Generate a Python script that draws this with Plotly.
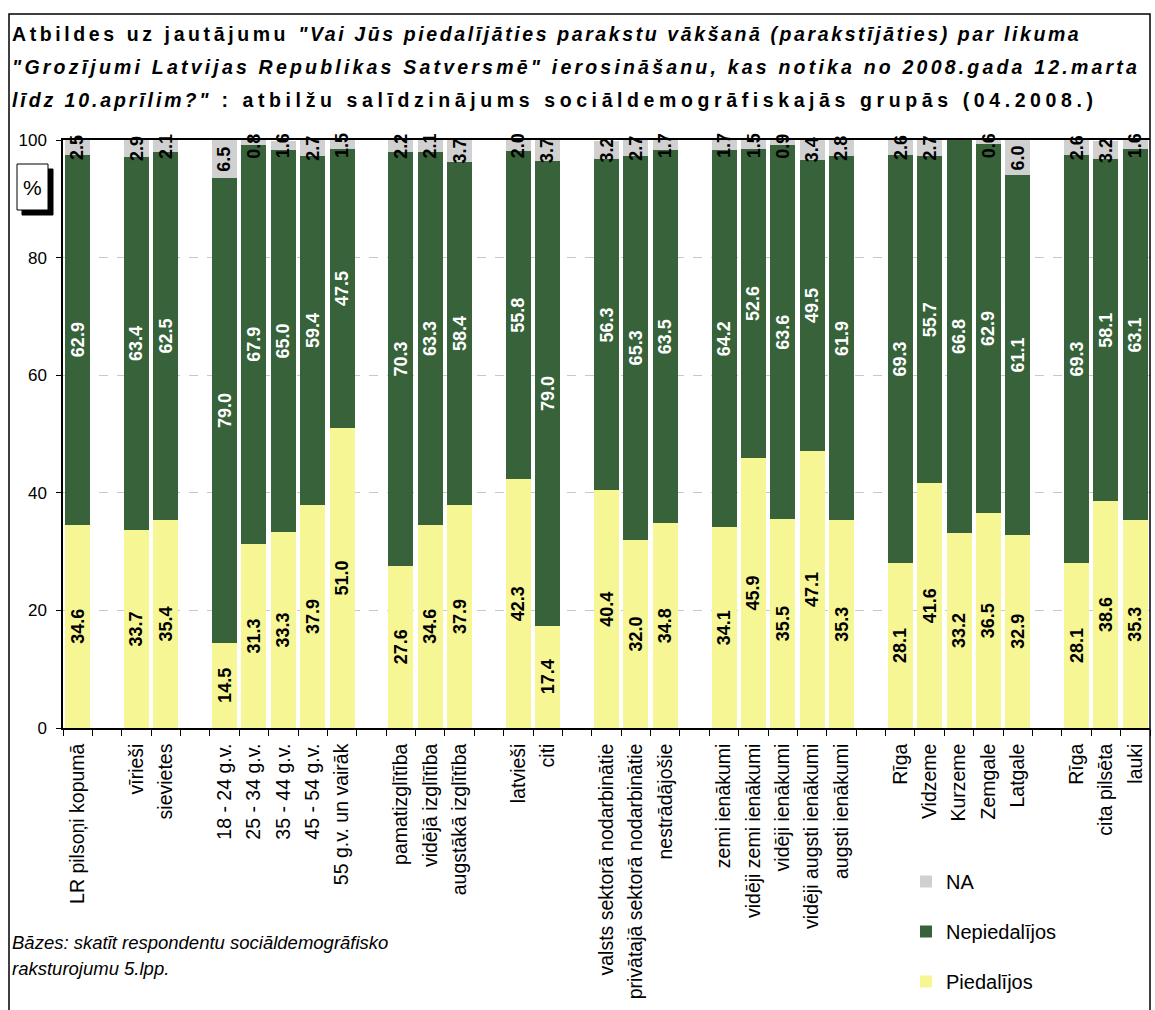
import plotly.graph_objects as go

# ---- data ----
categories = ["LR pilsoņi kopumā", "", "vīrieši", "sievietes", "",
              "18 - 24 g.v.", "25 - 34 g.v.", "35 - 44 g.v.", "45 - 54 g.v.", "55 g.v. un vairāk", "",
              "pamatizglītība", "vidējā izglītība", "augstākā izglītība", "",
              "latvieši", "citi", "",
              "valsts sektorā nodarbinātie", "privātajā sektorā nodarbinātie", "nestrādājošie", "",
              "zemi ienākumi", "vidēji zemi ienākumi", "vidēji ienākumi", "vidēji augsti ienākumi", "augsti ienākumi", "",
              "Rīga", "Vidzeme", "Kurzeme", "Zemgale", "Latgale", "",
              "Rīga", "cita pilsēta", "lauki"]

piedalijos = [34.6, None, 33.7, 35.4, None,
              14.5, 31.3, 33.3, 37.9, 51.0, None,
              27.6, 34.6, 37.9, None,
              42.3, 17.4, None,
              40.4, 32.0, 34.8, None,
              34.1, 45.9, 35.5, 47.1, 35.3, None,
              28.1, 41.6, 33.2, 36.5, 32.9, None,
              28.1, 38.6, 35.3]

nepiedalijos = [62.9, None, 63.4, 62.5, None,
                79.0, 67.9, 65.0, 59.4, 47.5, None,
                70.3, 63.3, 58.4, None,
                55.8, 79.0, None,
                56.3, 65.3, 63.5, None,
                64.2, 52.6, 63.6, 49.5, 61.9, None,
                69.3, 55.7, 66.8, 62.9, 61.1, None,
                69.3, 58.1, 63.1]

na_vals = [2.5, None, 2.9, 2.1, None,
           6.5, 0.8, 1.6, 2.7, 1.5, None,
           2.2, 2.1, 3.7, None,
           2.0, 3.7, None,
           3.2, 2.7, 1.7, None,
           1.7, 1.5, 0.9, 3.4, 2.8, None,
           2.6, 2.7, None, 0.6, 6.0, None,
           2.6, 3.2, 1.6]

series_names = ["Piedalījos", "Nepiedalījos", "NA"]
y_ticks = [0, 20, 40, 60, 80, 100]

# ---- layout geometry (pixels) ----
W, H = 1155, 1010
L, R, T, B = 63, 5, 140, 282
PW, PH = W - L - R, H - T - B


def px(x):
    return (x - L) / PW


def py(y):
    return (H - B - y) / PH


FONT = "Arial, Liberation Sans, sans-serif"
xpos = list(range(len(categories)))


def labels(vals):
    return ["" if v is None else f"{v:.1f}" for v in vals]


fig = go.Figure()
colors = ["#F6F694", "#37623A", "#D0D0D0"]
textcolors = ["black", "white", "black"]
ranks = [3, 2, 1]
all_vals = [piedalijos, nepiedalijos, na_vals]
for k, (name, vals, col, tc) in enumerate(zip(series_names, all_vals, colors, textcolors)):
    show_text = k < 2
    fig.add_trace(go.Bar(
        x=xpos, y=vals, name=name, legendgroup=name, legendrank=ranks[k],
        marker=dict(color=col, line=dict(width=0)),
        width=0.85,
        text=labels(vals) if show_text else None,
        textposition="inside" if show_text else "none",
        insidetextanchor="middle",
        textangle=-90, constraintext="none", cliponaxis=False,
        textfont=dict(family=FONT, size=18, color=tc, weight="bold"),
        hoverinfo="skip",
    ))

# NA labels (annotations so they can overflow the thin segments)
for i, v in enumerate(na_vals):
    if v is None:
        continue
    mid = piedalijos[i] + nepiedalijos[i] + v / 2
    fig.add_annotation(x=xpos[i], y=min(mid, 99.0), xref="x", yref="y",
                       text=f"<b>{v:.1f}</b>", textangle=-90, showarrow=False,
                       font=dict(family=FONT, size=18, color="black"))

fig.update_layout(
    width=W, height=H,
    margin=dict(l=L, r=R, t=T, b=B, autoexpand=False),
    barmode="stack", bargap=0.15,
    paper_bgcolor="white", plot_bgcolor="white",
    font=dict(family=FONT, color="black"),
    showlegend=True,
    legend=dict(x=px(906), y=py(862), xanchor="left", yanchor="top",
                traceorder="grouped", tracegroupgap=21,
                font=dict(family=FONT, size=20, color="black"),
                bgcolor="rgba(0,0,0,0)"),
    xaxis=dict(range=[-0.5, len(categories) - 0.5],
               tickmode="array", tickvals=xpos, ticktext=categories,
               tickangle=-90, ticks="", showgrid=False, zeroline=False,
               showline=True, linecolor="black", linewidth=1.5, mirror=True,
               ticklabelstandoff=6,
               tickfont=dict(family=FONT, size=19.5, color="black"),
               minor=dict(tickmode="array", tickvals=[i - 0.5 for i in range(len(categories) + 1)],
                          ticks="outside", ticklen=6, tickcolor="black", tickwidth=1, showgrid=False)),
    yaxis=dict(range=[0, 100], tickmode="array", tickvals=y_ticks,
               ticks="outside", ticklen=5, tickcolor="black",
               showline=True, linecolor="black", linewidth=1.5,
               showgrid=True, gridcolor="#C8C8C8", griddash="dash", gridwidth=1,
               zeroline=False, ticklabelstandoff=6,
               tickfont=dict(family=FONT, size=17, color="black")),
)

# outer frame
fig.add_shape(type="rect", xref="paper", yref="paper",
              x0=px(9), x1=px(1150), y0=py(1016), y1=py(14),
              line=dict(color="black", width=1.5), layer="above")

# % box with shadow
fig.add_shape(type="rect", xref="paper", yref="paper",
              x0=px(22), x1=px(53), y0=py(215), y1=py(169),
              fillcolor="black", line=dict(color="black", width=1))
fig.add_shape(type="rect", xref="paper", yref="paper",
              x0=px(17), x1=px(48), y0=py(210), y1=py(164),
              fillcolor="white", line=dict(color="black", width=1))
fig.add_annotation(xref="paper", yref="paper", x=px(32.5), y=py(187),
                   xanchor="center", yanchor="middle",
                   text="%", showarrow=False, font=dict(family=FONT, size=21, color="black"))

# title
title_lines = [
    "<b><span style='letter-spacing:3.6px'>Atbildes uz jautājumu </span>"
    "<span style='letter-spacing:2.6px'><i>\"Vai Jūs piedalījāties parakstu vākšanā (parakstījāties) par likuma</i></span></b>",
    "<b><span style='letter-spacing:3.2px'><i>\"Grozījumi Latvijas Republikas Satversmē\" ierosināšanu, kas notika no 2008.gada 12.marta</i></span></b>",
    "<b><span style='letter-spacing:2.9px'><i>līdz 10.aprīlim?\"</i></span>"
    "<span style='letter-spacing:4.6px'> : atbilžu salīdzinājums sociāldemogrāfiskajās grupās (04.2008.)</span></b>",
]
for i, t in enumerate(title_lines):
    fig.add_annotation(xref="paper", yref="paper", x=px(10), y=py(34 + 33 * i),
                       xanchor="left", yanchor="middle", text=t, showarrow=False,
                       font=dict(family=FONT, size=19.5, color="black"))

# footnote
foot_lines = ["<i>Bāzes: skatīt respondentu sociāldemogrāfisko</i>", "<i>raksturojumu 5.lpp.</i>"]
for i, t in enumerate(foot_lines):
    fig.add_annotation(xref="paper", yref="paper", x=px(10), y=py(942 + 26 * i),
                       xanchor="left", yanchor="middle", text=t, showarrow=False,
                       font=dict(family=FONT, size=18.5, color="black"))

fig.write_html("out.html", config={"displayModeBar": False},
               post_script="document.body.style.margin='0';document.body.style.overflow='hidden';")
